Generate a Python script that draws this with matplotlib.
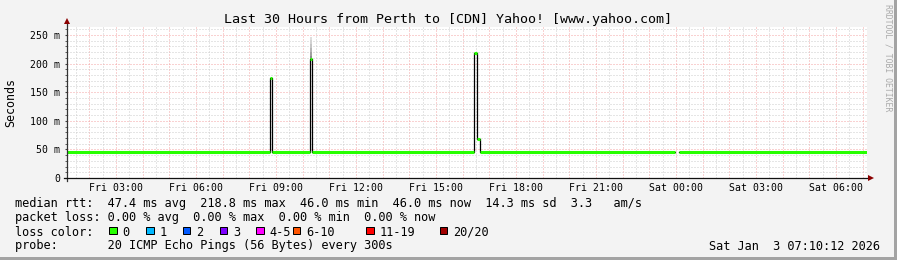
import numpy as np
import matplotlib
matplotlib.use("Agg")
import matplotlib.pyplot as plt
from matplotlib.lines import Line2D
from matplotlib.patches import Rectangle
from matplotlib.ticker import FixedLocator, MultipleLocator, FuncFormatter

W, H = 897, 260

# hours after Fri 00:00; the median rtt changes at these 5-minute samples
start_hour = 1 + 10 / 60   # Fri 01:10
end_hour = 31 + 10 / 60    # Sat 07:10
step_hours = [start_hour, 8.78, 8.87, 10.28, 10.37, 16.44, 16.55, 16.65, 23.97, 24.10]
median_ms = [46.0, 174.8, 46.0, 207.5, 46.0, 218.8, 67.6, 46.0, np.nan, 46.0]

# individual pings (smoke) of the Fri 10:17 sample
smoke_hour = 10.28
smoke_ms = [207.5, 214, 221, 228, 235, 241, 246]

loss_labels = ["0", "1", "2", "3", "4-5", "6-10", "11-19", "20/20"]
loss_colors = ["#26ff00", "#00b8ff", "#0059ff", "#7e00ff",
               "#ff00ff", "#ff5500", "#ff0000", "#a10000"]

title = "Last 30 Hours from Perth to [CDN] Yahoo! [www.yahoo.com]"
legend_rows = [
    "median rtt:  47.4 ms avg  218.8 ms max  46.0 ms min  46.0 ms now  14.3 ms sd  3.3   am/s",
    "packet loss: 0.00 % avg  0.00 % max  0.00 % min  0.00 % now",
    "loss color:",
    "probe:       20 ICMP Echo Pings (56 Bytes) every 300s",
]
stamp = "Sat Jan  3 07:10:12 2026"

plt.rcParams["font.family"] = ["DejaVu Sans Mono"]

fig = plt.figure(figsize=(W / 100, H / 100), dpi=100, facecolor="#f3f3f3")


def fx(x):
    return x / W


def fy(y):
    return 1 - y / H


ax = fig.add_axes([fx(67), fy(178), 800 / W, 151 / H])
ax.set_facecolor("white")
ax.set_xlim(start_hour, end_hour)
ax.set_ylim(0, 264)
for s in ax.spines.values():
    s.set_visible(False)

# grid
ax.xaxis.set_major_locator(FixedLocator(range(2, 32)))
ax.xaxis.set_minor_locator(MultipleLocator(0.5))
ax.yaxis.set_major_locator(MultipleLocator(50))
ax.yaxis.set_minor_locator(MultipleLocator(10))
ax.grid(which="major", color="#f4a4a4", ls=(0, (1, 2)), lw=0.72)
ax.grid(which="minor", color="#cccccc", ls=(0, (1, 2)), lw=0.72)
ax.set_axisbelow(True)


def xfmt(h, pos):
    h = int(round(h))
    if h % 3:
        return ""
    day = "Fri" if h < 24 else "Sat"
    return f"{day} {h % 24:02d}:00"


def yfmt(v, pos):
    return "0" if v == 0 else f"{int(v)} m"


ax.xaxis.set_major_formatter(FuncFormatter(xfmt))
ax.yaxis.set_major_formatter(FuncFormatter(yfmt))
ax.tick_params(axis="x", which="both", length=0, pad=3.3, labelsize=7.1)
ax.tick_params(axis="y", which="both", length=1.5, direction="out",
               color="#444444", pad=3.6, labelsize=7.1)

# smoke
grays = ["#8c8c8c", "#a0a0a0", "#b4b4b4", "#c4c4c4", "#d2d2d2", "#dedede"]
for i in range(len(smoke_ms) - 1):
    ax.bar(smoke_hour, smoke_ms[i + 1] - smoke_ms[i], bottom=smoke_ms[i],
           width=5 / 60, align="edge", color=grays[i], lw=0, zorder=2)

# median line: black transitions, green (0 % loss) levels
xs = step_hours + [end_hour]
ys = median_ms + [median_ms[-1]]
ax.plot(xs, ys, drawstyle="steps-post", color="black", lw=0.9, zorder=3)
ax.hlines(median_ms, step_hours, step_hours[1:] + [end_hour],
          colors=loss_colors[0], lw=2.2, zorder=4)

# axes lines and arrows
fig.add_artist(Line2D([fx(67), fx(67)], [fy(181), fy(24)], color="#333333", lw=0.9))
fig.add_artist(Line2D([fx(64), fx(869)], [fy(178), fy(178)], color="#111111", lw=0.9))
fig.add_artist(Line2D([fx(67)], [fy(21)], marker="^", ms=5, color="#8b0000", mew=0))
fig.add_artist(Line2D([fx(871)], [fy(178)], marker=">", ms=5, color="#8b0000", mew=0))

# texts
fig.text(fx(448), fy(19), title, ha="center", va="center", fontsize=9.6)
fig.text(fx(11), fy(103), "Seconds", rotation=90, ha="center", va="center", fontsize=8.4)
fig.text(fx(887.5), fy(4), "RRDTOOL / TOBI OETIKER", rotation=270, ha="center",
         va="top", fontsize=5.9, color="#aaaaaa")

row_y = [204, 218, 232, 246]
for txt, y in zip(legend_rows, row_y):
    fig.text(fx(15), fy(y), txt, ha="left", va="center", fontsize=8.6)
fig.text(fx(880), fy(246), stamp, ha="right", va="center", fontsize=8.6)

box_x = [109, 146, 182.5, 219.5, 256, 292.5, 366, 439.5]
for bx, lab, col in zip(box_x, loss_labels, loss_colors):
    fig.add_artist(Rectangle((fx(bx), fy(234)), 7.5 / W, 7.5 / H, transform=fig.transFigure,
                             facecolor=col, edgecolor="black", lw=0.72))
    fig.text(fx(bx + 13.5), fy(232), lab, ha="left", va="center", fontsize=8.6)

# frame
fig.add_artist(Rectangle((fx(894), 0), 3 / W, 1, transform=fig.transFigure,
                         color="#a3a3a3", lw=0))
fig.add_artist(Rectangle((0, 0), 1, 3 / H, transform=fig.transFigure,
                         color="#a3a3a3", lw=0))

fig.savefig("out.png", dpi=100, facecolor=fig.get_facecolor())
